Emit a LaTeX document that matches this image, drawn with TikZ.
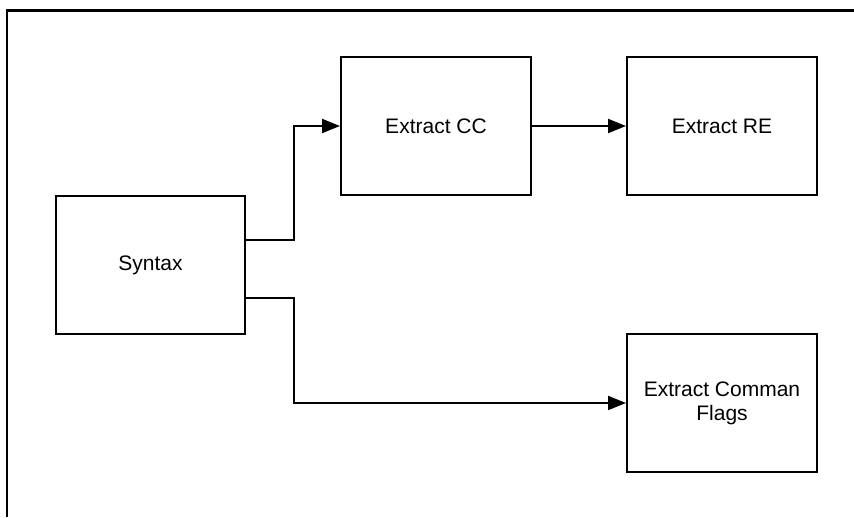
\documentclass[tikz,border=0pt]{standalone}
\usepackage{fontspec}
\setmainfont{Liberation Sans}
\usetikzlibrary{arrows.meta}
\begin{document}
\begin{tikzpicture}[x=1pt,y=-1pt,
  blk/.style={draw=black,line width=2pt,minimum width=190pt,minimum height=138pt,inner sep=0pt,align=center,font=\fontsize{21}{24}\selectfont},
  arr/.style={line width=2pt,-{Triangle[length=18pt,width=14pt]}}]
\useasboundingbox (0,0) rectangle (854,517);
\draw[line width=2.6pt] (7,517) -- (7,10.5) -- (854,10.5);
\node[blk,minimum width=189pt] (syntax) at (150.5,265) {Syntax};
\node[blk] (cc) at (436,126) {Extract CC};
\node[blk] (re) at (722,126) {Extract RE};
\node[blk] (flags) at (722,403) {Extract Comman\\Flags};
\draw[arr] ([yshift=25pt]syntax.east) -- ++(48,0) |- (cc.west);
\draw[arr] ([yshift=-33pt]syntax.east) -- ++(48,0) |- (flags.west);
\draw[arr] (cc.east) -- (re.west);
\end{tikzpicture}
\end{document}
